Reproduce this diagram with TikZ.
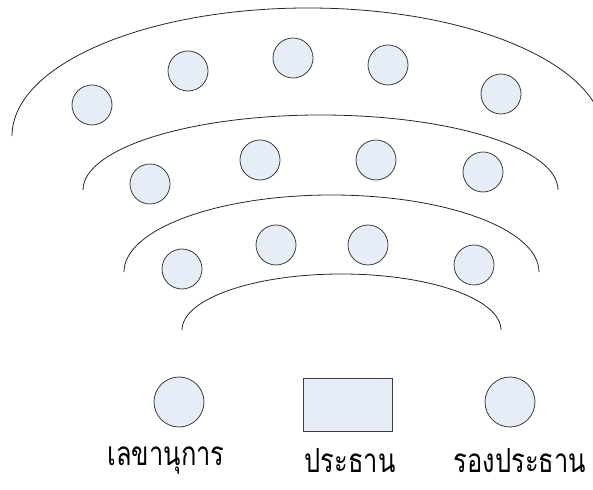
\documentclass[tikz,border=0pt]{standalone}
\usepackage{fontspec}
\newfontfamily\thaifont[Script=Thai]{Loma}
\newcommand{\tallthai}[1]{\scalebox{0.98}[1.28]{\thaifont\fontsize{26}{30}\selectfont #1}}
\definecolor{seatfill}{RGB}{231,237,247}
\definecolor{seatline}{RGB}{60,60,60}
\begin{document}
\begin{tikzpicture}[x=1pt,y=1pt,
  seat/.style={circle,draw=seatline,line width=0.8pt,fill=seatfill,minimum size=40pt,inner sep=0pt},
  bigseat/.style={circle,draw=seatline,line width=0.8pt,fill=seatfill,minimum size=50pt,inner sep=0pt},
  chair/.style={rectangle,draw=seatline,line width=0.8pt,fill=seatfill,minimum width=89pt,minimum height=53pt,inner sep=0pt},
  row/.style={draw=black!85,line width=0.8pt},
  lbl/.style={inner sep=0pt}]
\clip (0,0) rectangle (593,489);
% rows of the audience
\draw[row] (12,353) arc[start angle=180,end angle=0,x radius=296,y radius=128];
\draw[row] (83,299) arc[start angle=180,end angle=0,x radius=237.5,y radius=75];
\draw[row] (124,217) arc[start angle=180,end angle=0,x radius=207.5,y radius=77];
\draw[row] (182,159) arc[start angle=180,end angle=0,x radius=159.5,y radius=56];
\node[seat] (a1) at (92,384) {}; \node[seat] (a2) at (188,418) {}; \node[seat] (a3) at (293,431) {}; \node[seat] (a4) at (388,424) {}; \node[seat] (a5) at (501,395) {};
\node[seat] (b1) at (150,305) {}; \node[seat] (b2) at (260,329) {}; \node[seat] (b3) at (376,329) {}; \node[seat] (b4) at (483,317) {};
\node[seat] (c1) at (182,220) {}; \node[seat] (c2) at (276,244) {}; \node[seat] (c3) at (368,244) {}; \node[seat] (c4) at (474,224) {};
% front table
\node[bigseat] (sec) at (179,87) {}; \node[chair] (pres) at (347.5,84.5) {}; \node[bigseat] (vice) at (510,87) {};
\node[lbl] (secl) at (166,28) {\tallthai{เลขานุการ}};
\node[lbl] (presl) at (350,28) {\tallthai{ประธาน}};
\node[lbl] (vicel) at (520,28) {\tallthai{รองประธาน}};
\end{tikzpicture}
\end{document}
